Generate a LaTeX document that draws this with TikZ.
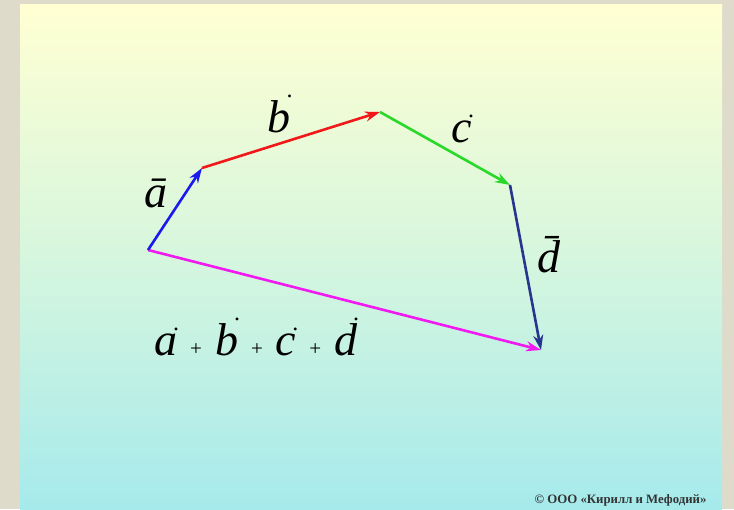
\documentclass[tikz,border=0pt]{standalone}
\usepackage{fontspec}
\setmainfont{Liberation Serif}
\usetikzlibrary{arrows.meta}
\definecolor{frameBG}{HTML}{DEDBCB}
\definecolor{panelTop}{HTML}{FFFFD2}
\definecolor{panelMid}{HTML}{D6F6DE}
\definecolor{panelBot}{HTML}{A6EAEC}
\definecolor{vecA}{HTML}{1A1AEE}
\definecolor{vecB}{HTML}{F01818}
\definecolor{vecC}{HTML}{2AD82A}
\definecolor{vecD}{HTML}{27358F}
\definecolor{vecSum}{HTML}{F01AF0}
% letter with a small dot at its upper right
\newcommand\tipdot[1]{\setbox0\hbox{#1}\copy0\makebox[0pt][l]{\kern-4pt\raisebox{\dimexpr\ht0+4pt}{\normalfont\fontsize{24}{24}\selectfont.}}}
\newcommand\smallplus{\hspace{13pt}{\normalfont\fontsize{21}{21}\selectfont+}\hspace{13pt}}

\begin{document}
\begin{tikzpicture}[
  x=1pt, y=-1pt,
  vec/.style={-{Stealth[length=15pt, width=10pt]}, line width=2.6pt},
  lbl/.style={font=\itshape\fontsize{46}{46}\selectfont, inner sep=0pt},
]
  % background and panel
  \fill[frameBG] (0,0) rectangle (734,509);
  \shade[top color=panelTop, bottom color=panelBot, middle color=panelMid] (20,5) rectangle (722,509);

  % vertices of the polygon
  \coordinate (O) at (148,250);
  \coordinate (A) at (202,168);
  \coordinate (B) at (380,112);
  \coordinate (C) at (510,185);
  \coordinate (D) at (541,350);

  \draw[vec, vecSum] (O) -- (D);
  \draw[vec, vecA] (O) -- (A);
  \draw[vec, vecB] (A) -- (B);
  \draw[vec, vecC] (B) -- (C);
  \draw[vec, vecD] (C) -- (D);

  \node[lbl, anchor=base] (la) at (156,208) {\={a}};
  \node[lbl, anchor=base] (lb) at (279,133) {\tipdot{b}};
  \node[lbl, anchor=base] (lc) at (462,143) {\tipdot{c}};
  \node[lbl, anchor=base] (ld) at (549,273) {\={d}};

  \node[lbl, anchor=base west] (lsum) at (154,356)
    {\tipdot{a}\smallplus\tipdot{b}\smallplus\tipdot{c}\smallplus\tipdot{d}};

  \node[font=\fontsize{12.8}{12.8}\selectfont\bfseries, text=black!80, anchor=east] (copy) at (710,500)
    {© ООО «Кирилл и Мефодий»};
\end{tikzpicture}
\end{document}
